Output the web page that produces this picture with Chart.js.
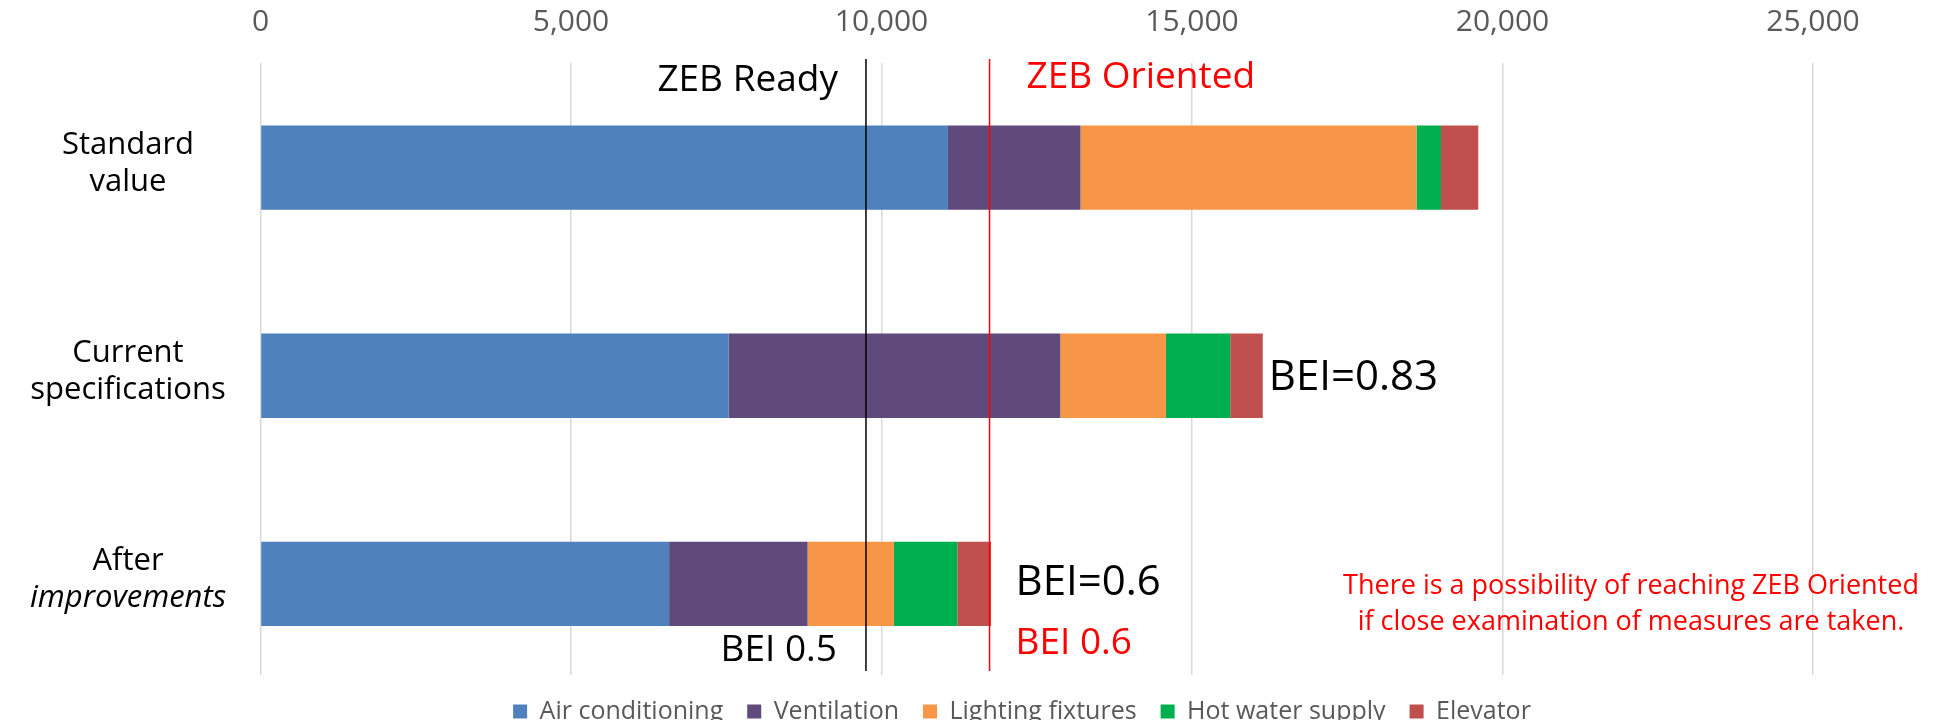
<!DOCTYPE html>
<html>
<head>
<meta charset="utf-8">
<script src="https://cdn.jsdelivr.net/npm/chart.js@4.4.1/dist/chart.umd.min.js"></script>
<style>
html, body { margin: 0; padding: 0; background: #fff; overflow: hidden; }
canvas { display: block; }
</style>
</head>
<body>
<canvas id="beiChart" width="1947" height="734"></canvas>
<script>
// ===== DATA =====
const categories = [["Standard", "value"], ["Current", "specifications"], ["After", "improvements"]];
const seriesNames = ["Air conditioning", "Ventilation", "Lighting fixtures", "Hot water supply", "Elevator"];
const airConditioning = [11070, 7540, 6580];
const ventilation = [2135, 5340, 2230];
const lightingFixtures = [5410, 1700, 1390];
const hotWaterSupply = [395, 1035, 1020];
const elevator = [600, 525, 545];
const xTicks = [0, 5000, 10000, 15000, 20000, 25000];
const zebReady = 9750;     // BEI 0.5
const zebOriented = 11740; // BEI 0.6
const beiLabels = ["BEI=0.83", "BEI=0.6"];

const seriesValues = [airConditioning, ventilation, lightingFixtures, hotWaterSupply, elevator];
const colors = ["#4F81BD", "#604A7B", "#F79646", "#00B050", "#C0504D"];
const FONT = '"Open Sans", "DejaVu Sans", sans-serif';

const datasets = seriesNames.map((name, k) => ({
    label: name,
    data: seriesValues[k].map((v, i) => ({ x: v, y: i })),
    backgroundColor: colors[k],
    borderWidth: 0,
    categoryPercentage: 1,
    barPercentage: 0.405
}));

// labels, marker lines and notes
const overlay = {
    id: "overlay",
    afterDatasetsDraw(chart) {
        const { ctx, scales: { x, y } } = chart;
        ctx.save();

        // ZEB lines
        const rx = x.getPixelForValue(zebReady);
        const ox = x.getPixelForValue(zebOriented);
        ctx.lineWidth = 1.5;
        ctx.strokeStyle = "#000";
        ctx.beginPath(); ctx.moveTo(rx, 59); ctx.lineTo(rx, 671); ctx.stroke();
        ctx.strokeStyle = "#FF0000";
        ctx.beginPath(); ctx.moveTo(ox, 59); ctx.lineTo(ox, 671); ctx.stroke();

        ctx.textBaseline = "middle";

        // category labels
        ctx.fillStyle = "#000";
        ctx.textAlign = "center";
        categories.forEach((lines, i) => {
            const cy = y.getPixelForValue(i);
            lines.forEach((t, j) => {
                ctx.font = (i === 2 && j === 1 ? "italic " : "") + "31px " + FONT;
                ctx.fillText(t, 128, cy + (j - 0.5) * 37 - 4);
            });
        });

        // ZEB headers
        ctx.font = "37px " + FONT;
        ctx.textAlign = "right";
        ctx.fillText("ZEB Ready", rx - 28, 80);
        ctx.fillText("BEI 0.5", rx - 29, 650);
        ctx.fillStyle = "#FF0000";
        ctx.textAlign = "left";
        ctx.fillText("ZEB Oriented", ox + 37, 77);
        ctx.fillText("BEI 0.6", ox + 26, 643);

        // BEI results
        ctx.fillStyle = "#000";
        ctx.font = "42px " + FONT;
        const ends = categories.map((c, i) => seriesValues.reduce((s, arr) => s + arr[i], 0));
        ctx.fillText(beiLabels[0], x.getPixelForValue(ends[1]) + 6, y.getPixelForValue(1) + 2);
        ctx.fillText(beiLabels[1], ox + 26, 583);

        // note
        ctx.fillStyle = "#FF0000";
        ctx.font = "27px " + FONT;
        ctx.textAlign = "center";
        ctx.fillText("There is a possibility of reaching ZEB Oriented", 1631, 586);
        ctx.fillText("if close examination of measures are taken.", 1631, 622);

        ctx.restore();
    }
};

const chart = new Chart(document.getElementById("beiChart"), {
    type: "bar",
    data: { datasets },
    options: {
        indexAxis: "y",
        responsive: false,
        animation: false,
        devicePixelRatio: 1,
        layout: { padding: { left: 97, right: 0, top: 0, bottom: 0 } },
        scales: {
            x: {
                type: "linear",
                position: "top",
                stacked: true,
                min: 0,
                max: 27158,
                afterBuildTicks: axis => { axis.ticks = xTicks.map(v => ({ value: v })); },
                afterFit: axis => { axis.height = 63; },
                border: { display: false },
                grid: { color: "#D9D9D9", lineWidth: 1.5, drawTicks: false },
                ticks: {
                    padding: 23,
                    color: "#595959",
                    font: { family: FONT, size: 30 },
                    callback: v => v.toLocaleString("en-US")
                }
            },
            y: {
                type: "linear",
                stacked: true,
                reverse: true,
                offset: false,
                min: -0.503,
                max: 2.438,
                afterBuildTicks: axis => { axis.ticks = categories.map((c, i) => ({ value: i })); },
                afterFit: axis => { axis.width = 163.5; },
                border: { display: false },
                grid: { display: false },
                ticks: { display: false }
            }
        },
        plugins: {
            tooltip: { enabled: false },
            legend: {
                position: "bottom",
                labels: {
                    boxWidth: 14,
                    boxHeight: 14,
                    padding: 24,
                    color: "#595959",
                    font: { family: FONT, size: 25 }
                }
            }
        }
    },
    plugins: [overlay]
});
</script>
</body>
</html>
